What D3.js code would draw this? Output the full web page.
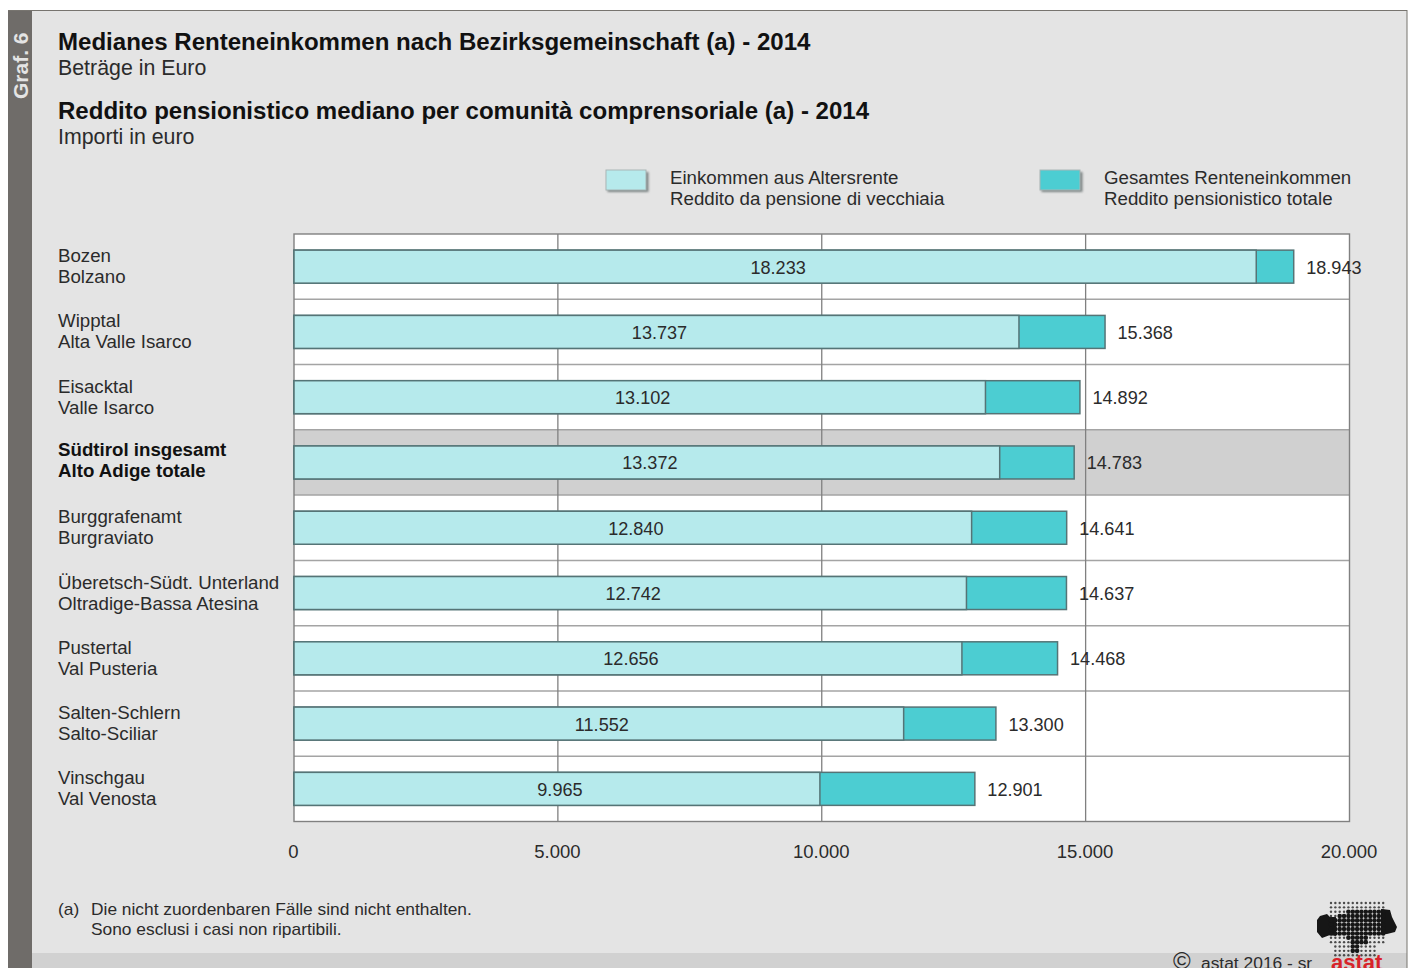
<!DOCTYPE html>
<html><head><meta charset="utf-8">
<style>html,body{margin:0;padding:0;background:#fff;overflow:hidden}svg{display:block}text{font-family:"Liberation Sans",Arial,sans-serif;fill:#2b2b2b}</style>
<script src="https://cdn.jsdelivr.net/npm/d3@7"></script>
</head><body><svg id="c" width="1410" height="968"></svg>
<script>
const labelsDe=["Bozen","Wipptal","Eisacktal","Südtirol insgesamt","Burggrafenamt","Überetsch-Südt. Unterland","Pustertal","Salten-Schlern","Vinschgau"];
const labelsIt=["Bolzano","Alta Valle Isarco","Valle Isarco","Alto Adige totale","Burgraviato","Oltradige-Bassa Atesina","Val Pusteria","Salto-Sciliar","Val Venosta"];
const oldAge=[18233,13737,13102,13372,12840,12742,12656,11552,9965];
const total=[18943,15368,14892,14783,14641,14637,14468,13300,12901];
const ticks=[0,5000,10000,15000,20000];
const highlighted="Südtirol insgesamt";
const titles=[["Medianes Renteneinkommen nach Bezirksgemeinschaft (a) - 2014",50,true],["Beträge in Euro",75,false],["Reddito pensionistico mediano per comunità comprensoriale (a) - 2014",119,true],["Importi in euro",144,false]];
const legendItems=[["Einkommen aus Altersrente","Reddito da pensione di vecchiaia","#b6eaec",606,670],["Gesamtes Renteneinkommen","Reddito pensionistico totale","#4ccdd2",1040,1104]];
const notes=[["(a)",58,915],["Die nicht zuordenbaren Fälle sind nicht enthalten.",91,915],["Sono esclusi i casi non ripartibili.",91,935]];

const fmt=d=>String(d).replace(/\B(?=(\d{3})+$)/g,".");
const svg=d3.select("#c");
const defs=svg.append("defs");
defs.append("filter").attr("id","soft").append("feGaussianBlur").attr("stdDeviation",0.8);
// panel
svg.append("rect").attr("x",8).attr("y",10).attr("width",1399).attr("height",958).attr("fill","#e4e4e4");
svg.append("rect").attr("x",32).attr("y",953).attr("width",1375).attr("height",15).attr("fill","#d1d1d1");
svg.append("rect").attr("x",8).attr("y",10).attr("width",24).attr("height",958).attr("fill","#6f6c69");
svg.append("line").attr("x1",8).attr("x2",1407).attr("y1",10.5).attr("y2",10.5).attr("stroke","#77746f");
svg.append("line").attr("x1",1407).attr("x2",1407).attr("y1",10).attr("y2",968).attr("stroke","#77746f");
svg.append("text").attr("transform","translate(27.5,99) rotate(-90)").attr("font-size",21).attr("font-weight",700).style("fill","#e4e4e4").text("Graf. 6");
// titles
svg.selectAll("text.t").data(titles).join("text").attr("class","t").attr("x",58).attr("y",d=>d[1])
 .attr("font-size",d=>d[2]?24.06:21.35).attr("font-weight",d=>d[2]?700:400).style("fill",d=>d[2]?"#111":"#2b2b2b").text(d=>d[0]);
// legend
legendItems.forEach(l=>{
 svg.append("rect").attr("x",l[3]+1.5).attr("y",172).attr("width",41).attr("height",20).attr("fill","#7d8585").attr("filter","url(#soft)");
 svg.append("rect").attr("x",l[3]).attr("y",170).attr("width",40).attr("height",20).attr("fill",l[2]).attr("stroke","#a9b5b5");
 svg.append("text").attr("x",l[4]).attr("y",184).attr("font-size",18.7).text(l[0]);
 svg.append("text").attr("x",l[4]).attr("y",205).attr("font-size",18.7).text(l[1]);
});
// scales
const x=d3.scaleLinear().domain([0,20000]).range([294,1349.5]);
const band=d3.scaleBand().domain(labelsDe).range([234,821.5]);
const barH=33;
const g=svg.append("g");
g.append("rect").attr("x",x(0)).attr("y",234).attr("width",x(20000)-x(0)).attr("height",587.5).attr("fill","#fff");
g.append("rect").attr("x",x(0)).attr("y",band(highlighted)).attr("width",x(20000)-x(0)).attr("height",band.bandwidth()).attr("fill","#d0d0d0");
// grid
g.selectAll("line.h").data(labelsDe.slice(1)).join("line").attr("class","h")
 .attr("x1",x(0)).attr("x2",x(20000)).attr("y1",d=>band(d)).attr("y2",d=>band(d)).attr("stroke","#a4a4a4").attr("stroke-width",1.5);
g.selectAll("line.v").data(ticks.slice(1,-1)).join("line").attr("class","v")
 .attr("x1",d=>x(d)).attr("x2",d=>x(d)).attr("y1",234).attr("y2",821.5).attr("stroke","#808080").attr("stroke-width",1.3);
g.append("rect").attr("x",x(0)).attr("y",234).attr("width",x(20000)-x(0)).attr("height",587.5).attr("fill","none").attr("stroke","#808080").attr("stroke-width",1.4);
// bars
const rows=labelsDe.map((n,i)=>({n,it:labelsIt[i],a:oldAge[i],t:total[i]}));
const by=d=>band(d.n)+(band.bandwidth()-barH)/2;
g.selectAll("rect.tot").data(rows).join("rect").attr("class","tot").attr("x",x(0)).attr("y",by).attr("width",d=>x(d.t)-x(0)).attr("height",barH).attr("fill","#4ccdd2").attr("stroke","#557476").attr("stroke-width",1.5);
g.selectAll("rect.old").data(rows).join("rect").attr("class","old").attr("x",x(0)).attr("y",by).attr("width",d=>x(d.a)-x(0)).attr("height",barH).attr("fill","#b6eaec").attr("stroke","#557476").attr("stroke-width",1.5);
// values
g.selectAll("text.a").data(rows).join("text").attr("class","a").attr("x",d=>(x(0)+x(d.a))/2+3).attr("y",d=>by(d)+23.5).attr("text-anchor","middle").attr("font-size",18.1).text(d=>fmt(d.a));
g.selectAll("text.b").data(rows).join("text").attr("class","b").attr("x",d=>x(d.t)+12.5).attr("y",d=>by(d)+23.5).attr("font-size",18.1).text(d=>fmt(d.t));
// row labels
const bold=d=>d.n===highlighted;
g.selectAll("text.de").data(rows).join("text").attr("class","de").attr("x",58).attr("y",d=>by(d)+(bold(d)?10.5:12)).attr("font-size",18.7).attr("font-weight",d=>bold(d)?700:400).style("fill",d=>bold(d)?"#111":null).text(d=>d.n);
g.selectAll("text.it").data(rows).join("text").attr("class","it").attr("x",58).attr("y",d=>by(d)+(bold(d)?31.5:33)).attr("font-size",18.7).attr("font-weight",d=>bold(d)?700:400).style("fill",d=>bold(d)?"#111":null).text(d=>d.it);
// axis
const axis=d3.axisBottom(x).tickValues(ticks).tickFormat(fmt).tickSize(0).tickPadding(0);
const ag=svg.append("g").attr("transform","translate(0,841)").call(axis);
ag.select(".domain").remove();
ag.selectAll("text").attr("font-size",18.5).attr("font-family",null).attr("dy","0.9em").attr("dx",-1);
// notes
svg.selectAll("text.n").data(notes).join("text").attr("class","n").attr("x",d=>d[1]).attr("y",d=>d[2]).attr("font-size",17.35).text(d=>d[0]);
// logo
const logo=svg.append("g");
const poly=[[1317,920],[1320,916],[1327,914],[1330,917],[1335,917],[1338,913],[1343,912],[1382,909],[1390,910],[1392,917],[1397,927],[1395,932],[1387,934],[1370,936],[1367,943],[1358,945],[1357,953],[1352,953],[1351,942],[1343,937],[1330,935],[1322,938],[1317,932]];
const cols=d3.range(1331,1384,4.35), rws=d3.range(903,958,4.35);
defs.append("clipPath").attr("id","ends").selectAll("rect").data([[1310,26],[1381,25]]).join("rect").attr("x",d=>d[0]).attr("y",895).attr("width",d=>d[1]).attr("height",70);
logo.append("path").attr("d","M"+poly.join("L")+"Z").attr("fill","#161616").attr("clip-path","url(#ends)");
rws.forEach(r=>cols.forEach(c=>{
 const inside=d3.polygonContains(poly,[c,r]);
 if(!inside&&r>945&&(c<1335||c>1375))return;
 logo.append("circle").attr("cx",c).attr("cy",r).attr("r",inside?2.3:1.2).attr("fill",inside?"#161616":"#4a4a4a");
}));
// footer
svg.append("text").attr("x",1173).attr("y",969).attr("font-size",24).text("©");
svg.append("text").attr("x",1201).attr("y",969).attr("font-size",17.4).text("astat 2016 - sr");
svg.append("text").attr("x",1331).attr("y",970).attr("font-size",22).attr("font-weight",700).style("fill","#d8232a").text("astat");
</script></body></html>
